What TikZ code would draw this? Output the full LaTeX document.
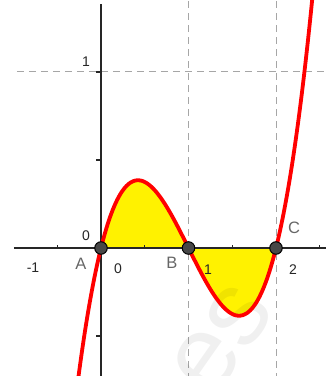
\documentclass[tikz,border=0pt]{standalone}
\usepackage{fontspec}
\setmainfont{Liberation Sans}
\begin{document}
\begin{tikzpicture}[x=1pt,y=1pt,
  axisline/.style={line width=1.3pt,black!85},
  gridline/.style={black!35,line width=1pt,dash pattern=on 7pt off 5pt},
  curveline/.style={red,line width=3.8pt},
  pointdot/.style={circle,draw=black,fill=black!72,line width=1pt,minimum size=12.5pt,inner sep=0pt},
  numlabel/.style={font=\fontsize{14}{14}\selectfont,text=black!85,inner sep=0pt},
  ptlabel/.style={font=\fontsize{16.5}{16.5}\selectfont,text=black!60,inner sep=0pt},
  tickmark/.style={line width=1.1pt,black!85}]
\useasboundingbox (0,0) rectangle (326,376);
\clip (0,0) rectangle (326,376);
\begin{scope}[shift={(101,128)},x=87.5pt,y=176pt]
  % grid lines
  \coordinate (gl) at (-0.96,1);
  \coordinate (gr) at (2.58,1);
  \coordinate (v1b) at (1,-0.75);
  \coordinate (v1t) at (1,1.42);
  \coordinate (v2b) at (2,-0.75);
  \coordinate (v2t) at (2,1.42);
  \draw[gridline] (gl) -- (gr);
  \draw[gridline] (v1b) -- (v1t);
  \draw[gridline] (v2b) -- (v2t);
  % yellow area
  \fill[yellow] plot[domain=0:2,samples=120,smooth] (\x,{\x*(\x-1)*(\x-2)}) -- cycle;
  % watermark
  \node[rotate=55,font=\fontsize{105}{105}\selectfont,text=black,opacity=0.06] (wm) at (1.38,-0.52) {es};
  % axes
  \coordinate (xl) at (-0.995,0);
  \coordinate (xr) at (2.58,0);
  \coordinate (yb) at (0,-0.75);
  \coordinate (yt) at (0,1.385);
  \draw[axisline] (xl) -- (xr);
  \draw[axisline] (yb) -- (yt);
  % ticks
  \foreach \t in {-0.5,0.5,1,1.5,2,2.5}
    \draw[tickmark] (\t,0) -- ++(0,3pt);
  \foreach \t in {-0.5,0.5,1}
    \draw[tickmark] (0,\t) -- ++(-5pt,0);
  % curve
  \draw[curveline] plot[domain=-0.3:2.45,samples=160,smooth] (\x,{\x*(\x-1)*(\x-2)});
  % points
  \node[pointdot] (A) at (0,0) {};
  \node[pointdot] (B) at (1,0) {};
  \node[pointdot] (C) at (2,0) {};
\end{scope}
% labels
\node[numlabel] (ly0) at (86,140) {0};
\node[numlabel] (ly1) at (86,314) {1};
\node[numlabel] (lxm1) at (33,108) {-1};
\node[numlabel] (lx0) at (118,107) {0};
\node[numlabel] (lx1) at (208,106) {1};
\node[numlabel] (lx2) at (293,106) {2};
\node[ptlabel] (lA) at (81,112) {A};
\node[ptlabel] (lB) at (172,113) {B};
\node[ptlabel] (lC) at (294,148) {C};
\end{tikzpicture}
\end{document}
